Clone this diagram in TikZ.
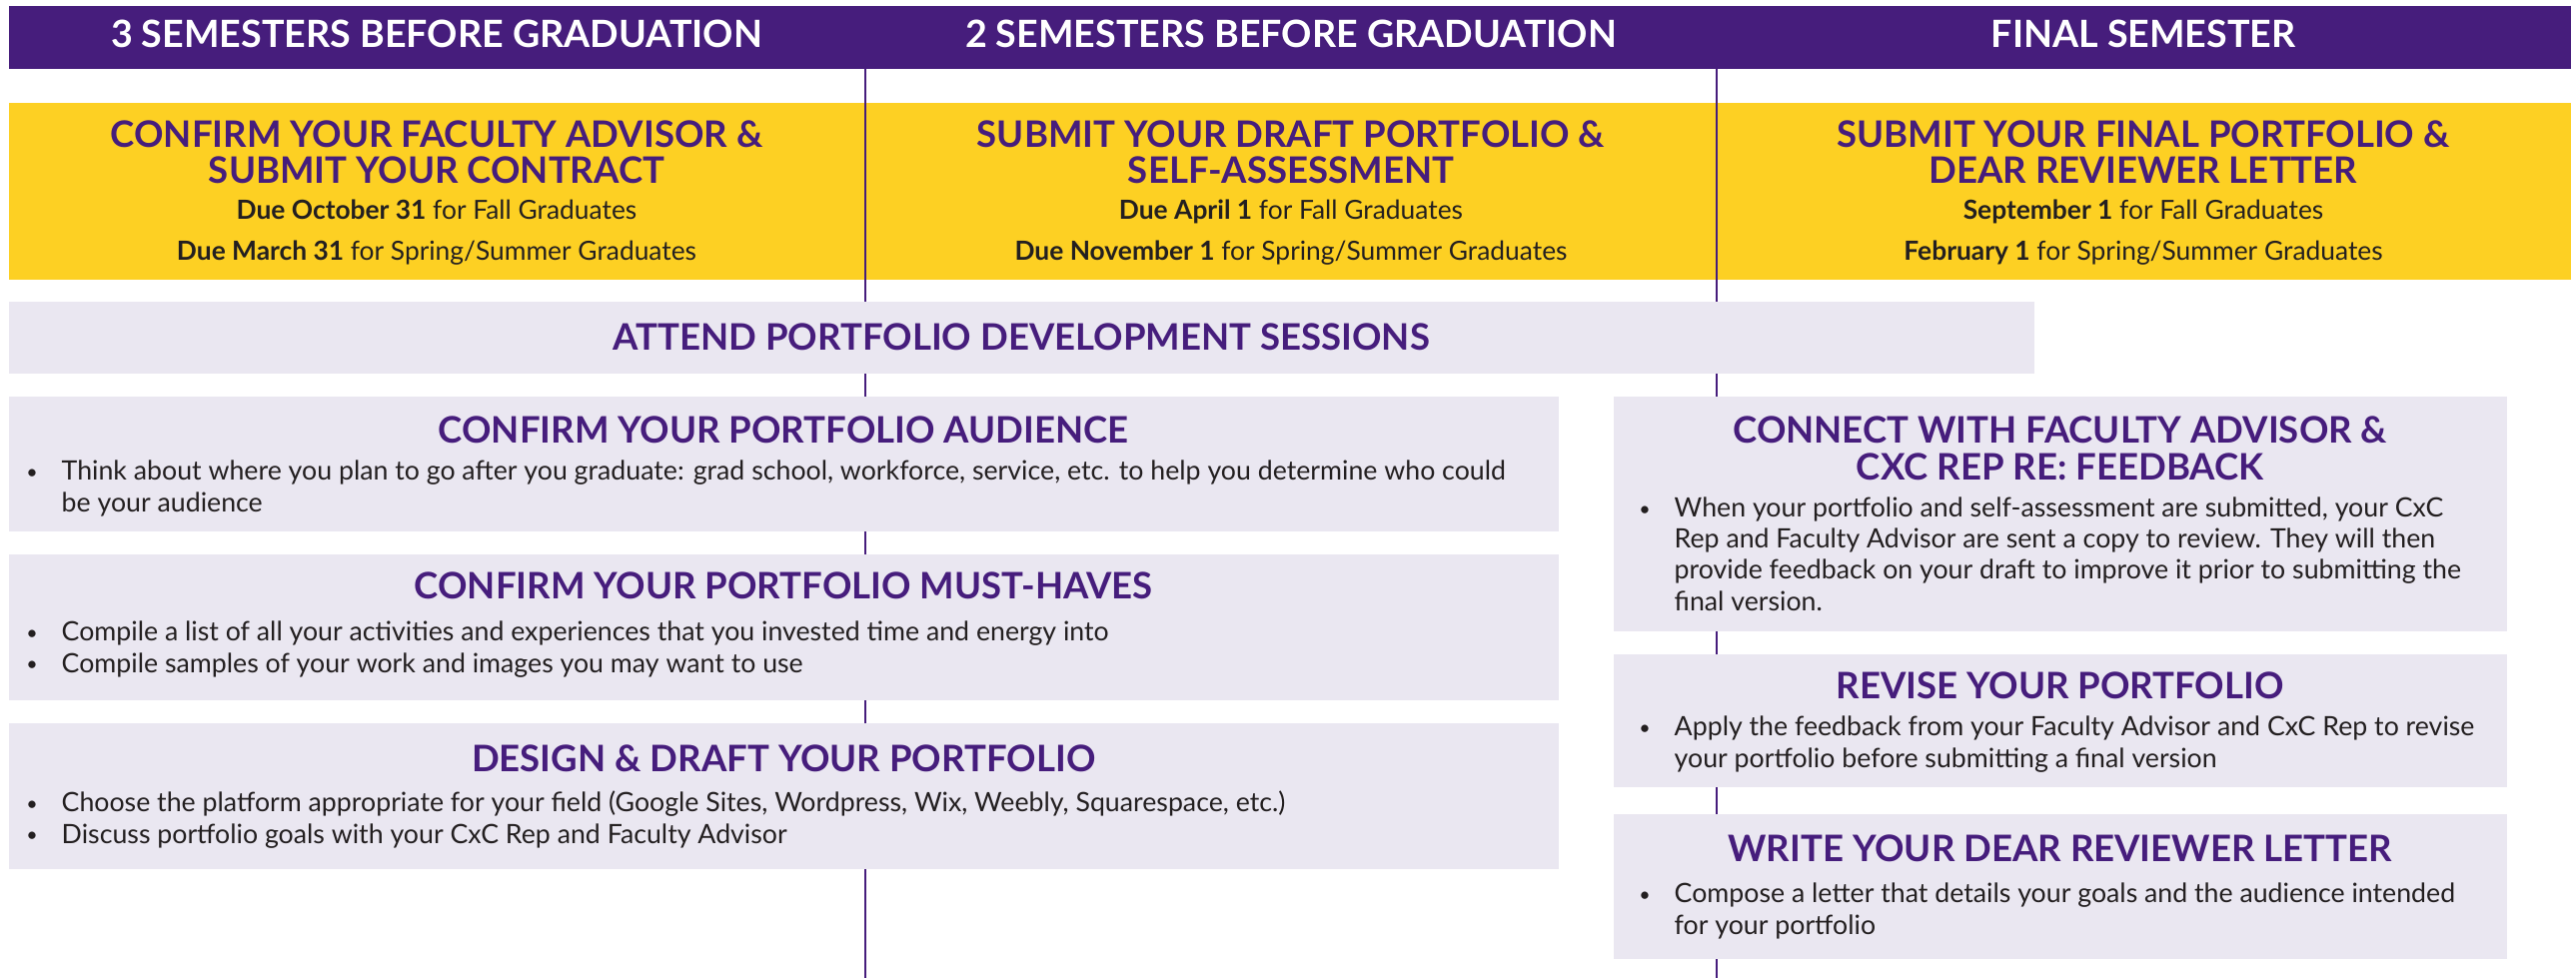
\documentclass[tikz,border=0pt]{standalone}
\usepackage{fontspec}
\setmainfont{Lato}
\usepackage{tikz}
\usetikzlibrary{positioning,calc}

\definecolor{lsupurple}{HTML}{461D7C}
\definecolor{lsugold}{HTML}{FDD023}
\definecolor{lavender}{HTML}{EAE7F1}
\definecolor{ink}{HTML}{231F20}

\newcommand{\bul}{\llap{\raisebox{0.3pt}{\fontsize{5.6}{5.6}\selectfont\textbullet}\hspace{0.24cm}}}

\begin{document}
\begin{tikzpicture}[
		bar/.style={anchor=north west, inner sep=0pt, minimum width=25.64cm},
		panel/.style={fill=lavender, anchor=north west, inner sep=0pt},
		hdtext/.style={text=white, font=\bfseries\fontsize{10.7}{12}\selectfont, anchor=base},
		ttl/.style={text=lsupurple, font=\bfseries\fontsize{10.4}{10.5}\selectfont, align=center, anchor=base, inner sep=0pt},
		due/.style={text=ink, font=\fontsize{7.5}{11.4}\selectfont, align=center, anchor=base, inner sep=0pt},
		body/.style={text=ink, font=\fontsize{7.6}{8.9}\selectfont, align=left, anchor=base west, inner sep=0pt}]
		\useasboundingbox (0,0) rectangle (25.78,-9.79);

		% header and deadlines (base = last line)
		\node[bar, fill=lsupurple, minimum height=0.63cm] (hdr) at (0.08,-0.05) {};
		\node[hdtext] (h1) at (4.37,-0.48) {3 SEMESTERS BEFORE GRADUATION};
		\node[hdtext] (h2) at (12.92,-0.48) {2 SEMESTERS BEFORE GRADUATION};
		\node[hdtext] (h3) at (21.45,-0.48) {FINAL SEMESTER};
		\node[bar, fill=lsugold, minimum height=1.77cm] (band) at (0.08,-1.02) {};

		\coordinate (l1a) at (8.66,-0.68);
		\coordinate (l1b) at (8.66,-9.79);
		\coordinate (l2a) at (17.18,-0.68);
		\coordinate (l2b) at (17.18,-9.79);
		\draw[lsupurple, line width=0.7pt] (l1a) -- (l1b);
		\draw[lsupurple, line width=0.7pt] (l2a) -- (l2b);

		\node[ttl] (t1) at (4.37,-1.84) {CONFIRM YOUR FACULTY ADVISOR \&\\SUBMIT YOUR CONTRACT};
		\node[due] (d1) at (4.37,-2.60) {\textbf{Due October 31} for Fall Graduates\\\textbf{Due March 31} for Spring/Summer Graduates};
		\node[ttl] (t2) at (12.92,-1.84) {SUBMIT YOUR DRAFT PORTFOLIO \&\\SELF-ASSESSMENT};
		\node[due] (d2) at (12.92,-2.60) {\textbf{Due April 1} for Fall Graduates\\\textbf{Due November 1} for Spring/Summer Graduates};
		\node[ttl] (t3) at (21.45,-1.84) {SUBMIT YOUR FINAL PORTFOLIO \&\\DEAR REVIEWER LETTER};
		\node[due] (d3) at (21.45,-2.60) {\textbf{September 1} for Fall Graduates\\\textbf{February 1} for Spring/Summer Graduates};

		% sessions
		\node[panel, minimum width=20.27cm, minimum height=0.72cm] (att) at (0.08,-3.01) {};
		\node[ttl] (attT) at ($(att.north)+(0,-0.49)$) {ATTEND PORTFOLIO DEVELOPMENT SESSIONS};

		% left column
		\node[panel, minimum width=15.51cm, minimum height=1.35cm] (aud) at (0.08,-3.96) {};
		\node[ttl] (audT) at ($(aud.north)+(0,-0.47)$) {CONFIRM YOUR PORTFOLIO AUDIENCE};
		\node[body] (audB) at ($(aud.north west)+(0.53,-1.16)$) {\bul Think about where you plan to go after you graduate: grad school, workforce, service, etc. to help you determine who could\\be your audience};

		\node[panel, minimum width=15.51cm, minimum height=1.46cm] (must) at (0.08,-5.54) {};
		\node[ttl] (mustT) at ($(must.north)+(0,-0.45)$) {CONFIRM YOUR PORTFOLIO MUST-HAVES};
		\node[body] (mustB) at ($(must.north west)+(0.53,-1.19)$) {\bul Compile a list of all your activities and experiences that you invested time and energy into\\\bul Compile samples of your work and images you may want to use};

		\node[panel, minimum width=15.51cm, minimum height=1.46cm] (dsg) at (0.08,-7.23) {};
		\node[ttl] (dsgT) at ($(dsg.north)+(0,-0.49)$) {DESIGN \& DRAFT YOUR PORTFOLIO};
		\node[body] (dsgB) at ($(dsg.north west)+(0.53,-1.21)$) {\bul Choose the platform appropriate for your field (Google Sites, Wordpress, Wix, Weebly, Squarespace, etc.)\\\bul Discuss portfolio goals with your CxC Rep and Faculty Advisor};

		% right column
		\node[panel, minimum width=8.94cm, minimum height=2.35cm] (con) at (16.14,-3.96) {};
		\node[ttl] (conT) at ($(con.north)+(0,-0.84)$) {CONNECT WITH FACULTY ADVISOR \&\\CXC REP RE: FEEDBACK};
		\node[body] (conB) at ($(con.north west)+(0.61,-2.15)$) {\bul When your portfolio and self-assessment are submitted, your CxC\\Rep and Faculty Advisor are sent a copy to review. They will then\\provide feedback on your draft to improve it prior to submitting the\\final version.};

		\node[panel, minimum width=8.94cm, minimum height=1.33cm] (rev) at (16.14,-6.54) {};
		\node[ttl] (revT) at ($(rev.north)+(0,-0.45)$) {REVISE YOUR PORTFOLIO};
		\node[body] (revB) at ($(rev.north west)+(0.61,-1.14)$) {\bul Apply the feedback from your Faculty Advisor and CxC Rep to revise\\your portfolio before submitting a final version};

		\node[panel, minimum width=8.94cm, minimum height=1.45cm] (wrt) at (16.14,-8.14) {};
		\node[ttl] (wrtT) at ($(wrt.north)+(0,-0.48)$) {WRITE YOUR DEAR REVIEWER LETTER};
		\node[body] (wrtB) at ($(wrt.north west)+(0.61,-1.21)$) {\bul Compose a letter that details your goals and the audience intended\\for your portfolio};
		\end{tikzpicture}
\end{document}
